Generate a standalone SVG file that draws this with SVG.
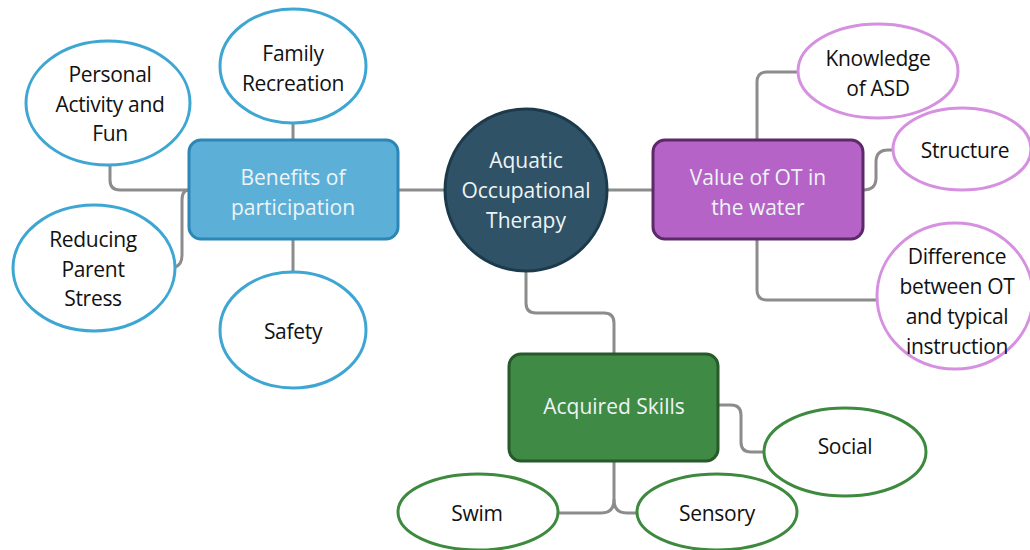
<svg xmlns="http://www.w3.org/2000/svg" width="1030" height="550" viewBox="0 0 1030 550">
  <style>
    .link { fill: none; stroke: #8c8c8c; stroke-width: 3; stroke-linecap: round; }
    .leaf { fill: #ffffff; stroke-width: 3; }
    .blue { stroke: #3ea6d2; }
    .purple { stroke: #d690e0; }
    .green { stroke: #3d8a3f; }
    text { font-family: "Open Sans", "Noto Sans", "Liberation Sans", sans-serif; font-size: 21px; text-anchor: middle; dominant-baseline: central; }
    .dark { fill: #111111; font-weight: 500; letter-spacing: -0.3px; }
    .light { fill: #eef4f6; }
  </style>

  <rect width="1030" height="550" fill="#ffffff"/>

  <!-- connectors -->
  <g id="connectors">
    <!-- benefits branch -->
    <path class="link" d="M293,123 L293,140"/>
    <path class="link" d="M293,239 L293,272"/>
    <path class="link" d="M110,165 L110,180 Q110,190 120,190 L189,190"/>
    <path class="link" d="M175,267 Q182,265 182,255 L182,200 Q182,190 189,190"/>
    <path class="link" d="M398,190 L445,190"/>
    <!-- value branch -->
    <path class="link" d="M607,190 L653,190"/>
    <path class="link" d="M757,140 L757,82 Q757,72 767,72 L798,72"/>
    <path class="link" d="M863,190 Q876,190 876,178 L876,162 Q876,150 888,150 L894,150"/>
    <path class="link" d="M757,239 L757,290 Q757,300 767,300 L878,300"/>
    <!-- skills branch -->
    <path class="link" d="M526,273 L526,303 Q526,313 536,313 L604,313 Q614,313 614,323 L614,354"/>
    <path class="link" d="M718,405 L731,405 Q741,405 741,415 L741,442 Q741,452 751,452 L764,452"/>
    <path class="link" d="M614,461 L614,500 Q614,513 601,513 L559,513"/>
    <path class="link" d="M614,500 Q614,513 627,513 L637,513"/>
  </g>

  <!-- centre -->
  <g id="node-aquatic-ot">
    <circle cx="526" cy="190" r="81" fill="#2f5266" stroke="#1d3a4b" stroke-width="3"/>
    <text class="light" x="526" y="160">Aquatic</text>
    <text class="light" x="526" y="190">Occupational</text>
    <text class="light" x="526" y="220">Therapy</text>
  </g>

  <!-- benefits of participation -->
  <g id="node-benefits">
    <rect x="189" y="140" width="209" height="99" rx="12" fill="#5cb0d8" stroke="#2c86b6" stroke-width="3"/>
    <text class="light" x="293" y="177">Benefits of</text>
    <text class="light" x="293" y="207">participation</text>
  </g>
  <g id="node-family-recreation">
    <ellipse class="leaf blue" cx="293" cy="66" rx="73" ry="57"/>
    <text class="dark" x="293" y="53">Family</text>
    <text class="dark" x="293" y="83">Recreation</text>
  </g>
  <g id="node-personal-activity">
    <ellipse class="leaf blue" cx="108" cy="103" rx="82" ry="62"/>
    <text class="dark" x="110" y="74">Personal</text>
    <text class="dark" x="110" y="104">Activity and</text>
    <text class="dark" x="110" y="133">Fun</text>
  </g>
  <g id="node-parent-stress">
    <ellipse class="leaf blue" cx="94" cy="268" rx="81" ry="63"/>
    <text class="dark" x="93" y="239">Reducing</text>
    <text class="dark" x="93" y="269">Parent</text>
    <text class="dark" x="93" y="298">Stress</text>
  </g>
  <g id="node-safety">
    <ellipse class="leaf blue" cx="293" cy="330" rx="73" ry="58"/>
    <text class="dark" x="293" y="331">Safety</text>
  </g>

  <!-- value of OT in the water -->
  <g id="node-value">
    <rect x="653" y="140" width="210" height="99" rx="12" fill="#b563c7" stroke="#5c2a68" stroke-width="3"/>
    <text class="light" x="758" y="177">Value of OT in</text>
    <text class="light" x="758" y="207">the water</text>
  </g>
  <g id="node-knowledge-asd">
    <ellipse class="leaf purple" cx="878" cy="71" rx="80" ry="47"/>
    <text class="dark" x="878" y="58">Knowledge</text>
    <text class="dark" x="878" y="88">of ASD</text>
  </g>
  <g id="node-structure">
    <ellipse class="leaf purple" cx="962" cy="149" rx="69" ry="41"/>
    <text class="dark" x="965" y="150">Structure</text>
  </g>
  <g id="node-difference">
    <ellipse class="leaf purple" cx="955" cy="296" rx="78" ry="73"/>
    <text class="dark" x="957" y="256">Difference</text>
    <text class="dark" x="957" y="286">between OT</text>
    <text class="dark" x="957" y="316">and typical</text>
    <text class="dark" x="957" y="346">instruction</text>
  </g>

  <!-- acquired skills -->
  <g id="node-acquired-skills">
    <rect x="509" y="354" width="209" height="107" rx="12" fill="#3f8a44" stroke="#28592b" stroke-width="3"/>
    <text class="light" x="614" y="406">Acquired Skills</text>
  </g>
  <g id="node-social">
    <ellipse class="leaf green" cx="845" cy="452" rx="81" ry="44"/>
    <text class="dark" x="845" y="446">Social</text>
  </g>
  <g id="node-swim">
    <ellipse class="leaf green" cx="478" cy="512" rx="80" ry="38"/>
    <text class="dark" x="477" y="513">Swim</text>
  </g>
  <g id="node-sensory">
    <ellipse class="leaf green" cx="717" cy="512" rx="80" ry="38"/>
    <text class="dark" x="717" y="513">Sensory</text>
  </g>
</svg>
